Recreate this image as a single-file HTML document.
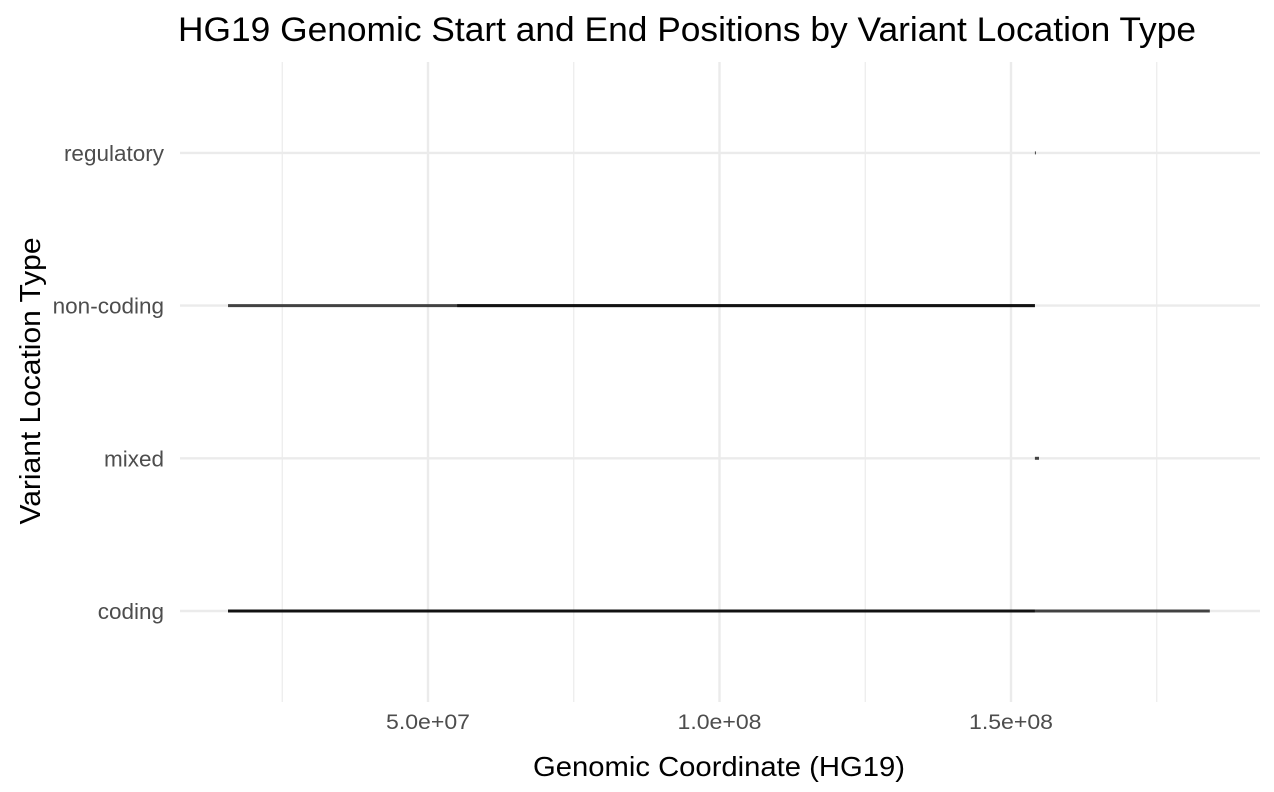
<!DOCTYPE html>
<html><head><meta charset="utf-8"><style>
body{margin:0;background:#fff}
svg text{font-family:"Liberation Sans",sans-serif}
</style></head><body>
<svg id="c" width="1274" height="787">
<text x="687" y="41" font-size="34" text-anchor="middle" fill="#000" textLength="1018" lengthAdjust="spacingAndGlyphs">HG19 Genomic Start and End Positions by Variant Location Type</text>
<g id="grid"></g><g id="segs"></g><g id="labels"></g>
<text x="719" y="776" font-size="28" text-anchor="middle" fill="#000" textLength="372" lengthAdjust="spacingAndGlyphs">Genomic Coordinate (HG19)</text>
<text transform="translate(40,381) rotate(-90)" font-size="29" text-anchor="middle" fill="#000" textLength="287" lengthAdjust="spacingAndGlyphs">Variant Location Type</text>
</svg>
<script>
const categories=["coding","mixed","non-coding","regulatory"];
const segCategory=["coding","coding","coding","non-coding","non-coding","mixed","regulatory"];
const segStart=[15.7e6,15.7e6,154.1e6,15.7e6,55e6,154.1e6,154.1e6];
const segEnd=[154.1e6,154.1e6,184.1e6,154.1e6,154.1e6,154.8e6,154.2e6];
const xMajor=[5e7,1e8,1.5e8];
const xLabels=["5.0e+07","1.0e+08","1.5e+08"];
const xMinor=[2.5e7,7.5e7,1.25e8,1.75e8];
const ns="http://www.w3.org/2000/svg";
const X=v=>428+(v-5e7)*291.5/5e7;
const Y=c=>611-categories.indexOf(c)*152.7;
const L=180,R=1260,T=62,B=702;
function mk(t,a,p){const e=document.createElementNS(ns,t);for(const k in a)e.setAttribute(k,a[k]);p.appendChild(e);return e;}
const g=document.getElementById('grid'),s=document.getElementById('segs'),lb=document.getElementById('labels');
xMinor.forEach(v=>{const e=mk('line',{x1:X(v),x2:X(v),y1:T,y2:B,stroke:'#ebebeb','stroke-width':1.2},g);

});
xMajor.forEach((v,i)=>{const e=mk('line',{x1:X(v),x2:X(v),y1:T,y2:B,stroke:'#ebebeb','stroke-width':2.4},g);


const t=mk('text',{x:X(v),y:729,'font-size':21,'text-anchor':'middle',fill:'#4d4d4d',textLength:84,lengthAdjust:'spacingAndGlyphs'},lb);t.textContent=xLabels[i];

});
categories.forEach(c=>{const e=mk('line',{x1:L,x2:R,y1:Y(c),y2:Y(c),stroke:'#ebebeb','stroke-width':2.4},g);


const t=mk('text',{x:164,y:Y(c)+8,'font-size':22.5,'text-anchor':'end',fill:'#4d4d4d'},lb);t.textContent=c;

});
segCategory.forEach((c,i)=>{const x1=X(segStart[i]),x2=Math.max(X(segEnd[i]),x1+1);
const e=mk('line',{x1:x1,x2:x2,y1:Y(c),y2:Y(c),stroke:'#000','stroke-opacity':0.72,'stroke-width':3},s);

});
</script>
</body></html>
